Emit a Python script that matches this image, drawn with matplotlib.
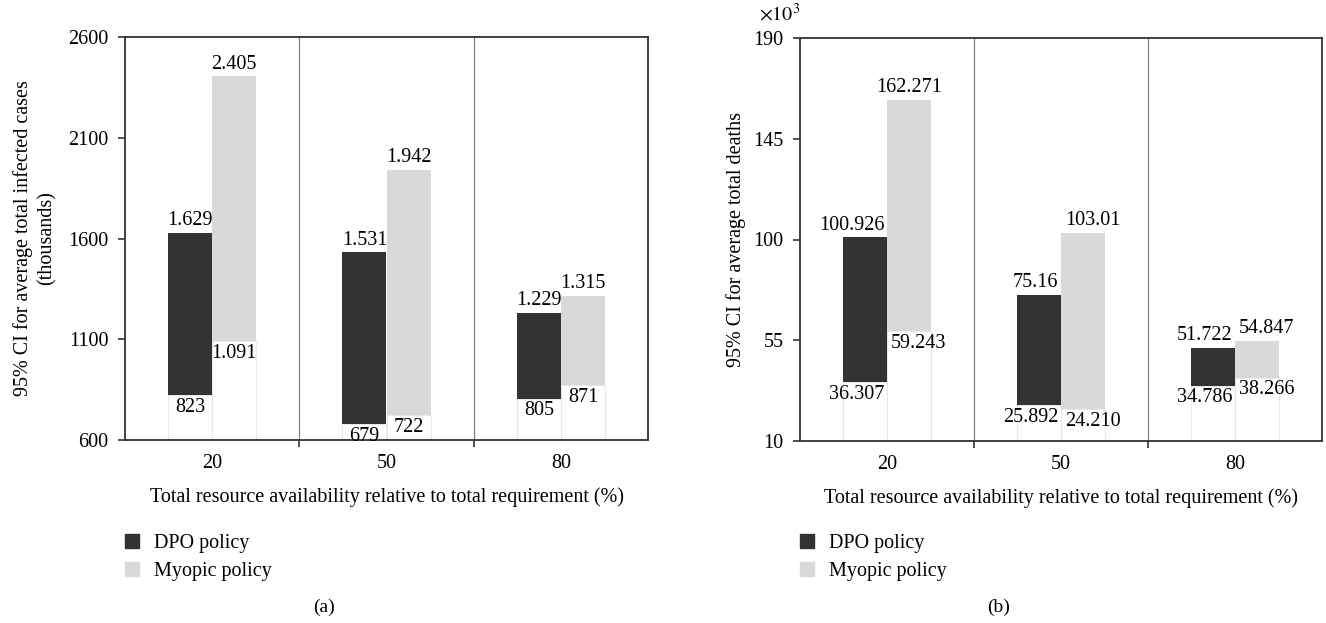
import matplotlib
matplotlib.use("Agg")
from matplotlib import pyplot as plt
from matplotlib.patches import Patch
import numpy as np

plt.rcParams.update({'font.family': 'Liberation Serif', 'font.size': 14.5,
                     'mathtext.fontset': 'stix'})

groups = ["20", "50", "80"]

# (a) 95% CI for average total infected cases (thousands)
cases_dpo_low = [823, 679, 805]
cases_dpo_high = [1629, 1531, 1229]
cases_myo_low = [1091, 722, 871]
cases_myo_high = [2405, 1942, 1315]
cases_dpo_low_txt = ["823", "679", "805"]
cases_dpo_high_txt = ["1.629", "1.531", "1.229"]
cases_myo_low_txt = ["1.091", "722", "871"]
cases_myo_high_txt = ["2.405", "1.942", "1.315"]
cases_yticks = [600, 1100, 1600, 2100, 2600]

# (b) 95% CI for average total deaths (x10^3)
deaths_dpo_low = [36.307, 25.892, 34.786]
deaths_dpo_high = [100.926, 75.16, 51.722]
deaths_myo_low = [59.243, 24.210, 38.266]
deaths_myo_high = [162.271, 103.01, 54.847]
deaths_dpo_low_txt = ["36.307", "25.892", "34.786"]
deaths_dpo_high_txt = ["100.926", "75.16", "51.722"]
deaths_myo_low_txt = ["59.243", "24.210", "38.266"]
deaths_myo_high_txt = ["162.271", "103.01", "54.847"]
deaths_yticks = [10, 55, 100, 145, 190]

dark = '#333333'
light = '#d9d9d9'
w = 0.253


def draw(ax, dlow, dhigh, mlow, mhigh, dlow_t, dhigh_t, mlow_t, mhigh_t, yticks, side_labels):
    x = np.arange(len(groups))
    ymin = yticks[0]
    dlow, dhigh, mlow, mhigh = map(np.array, (dlow, dhigh, mlow, mhigh))
    # faint base bars below the intervals
    ax.bar(x - w / 2, dlow - ymin, w, bottom=ymin, color='white', edgecolor='#e8e8e8', linewidth=0.8, zorder=1)
    ax.bar(x + w / 2, mlow - ymin, w, bottom=ymin, color='white', edgecolor='#e8e8e8', linewidth=0.8, zorder=1)
    ax.bar(x - w / 2, dhigh - dlow, w, bottom=dlow, color=dark, zorder=2)
    ax.bar(x + w / 2, mhigh - mlow, w, bottom=mlow, color=light, zorder=2)

    for i in x:
        if side_labels:
            ax.annotate(dhigh_t[i], (i, dhigh[i]), xytext=(-2, 2), textcoords='offset points', ha='right', va='bottom')
            ax.annotate(dlow_t[i], (i, dlow[i]), xytext=(-2, -2), textcoords='offset points', ha='right', va='top')
            ax.annotate(mlow_t[i], (i, mlow[i]), xytext=(3, -2), textcoords='offset points', ha='left', va='top')
            if i == 0:
                ax.annotate(mhigh_t[i], (i + w / 2, mhigh[i]), xytext=(0, 2), textcoords='offset points', ha='center', va='bottom')
            else:
                ax.annotate(mhigh_t[i], (i, mhigh[i]), xytext=(3, 2), textcoords='offset points', ha='left', va='bottom')
        else:
            ax.annotate(dhigh_t[i], (i - w / 2, dhigh[i]), xytext=(0, 2), textcoords='offset points', ha='center', va='bottom')
            ax.annotate(dlow_t[i], (i - w / 2, dlow[i]), xytext=(0, -2), textcoords='offset points', ha='center', va='top')
            ax.annotate(mhigh_t[i], (i + w / 2, mhigh[i]), xytext=(0, 2), textcoords='offset points', ha='center', va='bottom')
            ax.annotate(mlow_t[i], (i + w / 2, mlow[i]), xytext=(0, -2), textcoords='offset points', ha='center', va='top')

    ax.set_xlim(-0.5, 2.5)
    ax.set_ylim(yticks[0], yticks[-1])
    ax.set_yticks(yticks)
    ax.set_xticks(x)
    ax.set_xticklabels(groups)
    ax.set_xticks([0.5, 1.5], minor=True)
    for b in [0.5, 1.5]:
        ax.axvline(b, color='#808080', linewidth=0.9, zorder=0)
    ax.tick_params(axis='x', which='major', length=0, pad=10)
    ax.tick_params(axis='x', which='minor', length=5, width=1.2, color='#333333', direction='out')
    ax.tick_params(axis='y', length=5, width=1.2, color='#333333', pad=7)
    for s in ax.spines.values():
        s.set_color('#333333')
        s.set_linewidth(1.3)
    ax.set_xlabel("Total resource availability relative to total requirement (%)", labelpad=10)


fig = plt.figure(figsize=(13.26, 6.23), dpi=100)
ax1 = fig.add_axes([125 / 1326, 183 / 623, 523 / 1326, 403 / 623])
ax2 = fig.add_axes([800 / 1326, 182 / 623, 522 / 1326, 403 / 623])

draw(ax1, cases_dpo_low, cases_dpo_high, cases_myo_low, cases_myo_high,
     cases_dpo_low_txt, cases_dpo_high_txt, cases_myo_low_txt, cases_myo_high_txt, cases_yticks, False)
draw(ax2, deaths_dpo_low, deaths_dpo_high, deaths_myo_low, deaths_myo_high,
     deaths_dpo_low_txt, deaths_dpo_high_txt, deaths_myo_low_txt, deaths_myo_high_txt, deaths_yticks, True)

ax1.set_ylabel("95% CI for average total infected cases\n(thousands)", labelpad=8, linespacing=1.3)
ax2.set_ylabel("95% CI for average total deaths", labelpad=5)
fig.text(800 / 1326, (623 - 21) / 623, r'$\times10^3$', ha='right', va='baseline')

handles = [Patch(color=dark, label="DPO policy"), Patch(color=light, label="Myopic policy")]
for xpos in [125 / 1326, 800 / 1326]:
    fig.legend(handles=handles, loc='upper left', bbox_to_anchor=(xpos, (623 - 534) / 623),
               frameon=False, borderpad=0, borderaxespad=0, handlelength=0.7, handleheight=0.7,
               handletextpad=0.75, labelspacing=0.45)

fig.text(324 / 1326, (623 - 607) / 623, "(a)", ha='center', va='center', fontsize=14)
fig.text(999 / 1326, (623 - 607) / 623, "(b)", ha='center', va='center', fontsize=14)

fig.savefig("out.png", dpi=100)
